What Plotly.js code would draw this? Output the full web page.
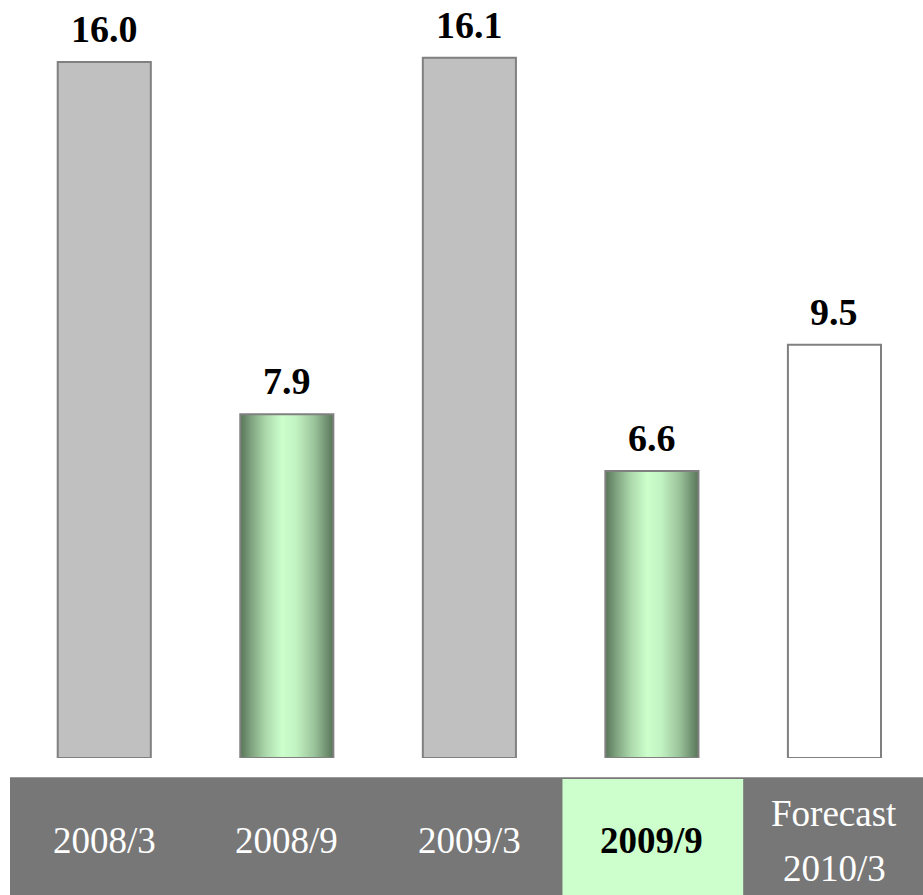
<!DOCTYPE html>
<html>
<head>
<meta charset="utf-8">
<script src="https://cdn.plot.ly/plotly-3.0.1.min.js"></script>
<style>
  html, body { margin: 0; padding: 0; background: #ffffff; }
  #chart { width: 923px; height: 895px; }
</style>
</head>
<body>
<div id="chart"></div>
<script>
// ---- data ----
const categories = ['2008/3', '2008/9', '2009/3', '2009/9', 'Forecast<br>2010/3'];
const values = [16.0, 7.9, 16.1, 6.6, 9.5];
const valueLabels = ['16.0', '7.9', '16.1', '6.6', '9.5'];
const barKinds = ['actual', 'half', 'actual', 'half', 'forecast'];
const highlightCategory = '2009/9';

// ---- styling ----
const W = 923, H = 895;
const ML = 13, MB = 137;
const plotW = W - ML, plotH = H - MB;
const pxPerUnit = 43.5;
const barWidth = 0.51;
const serif = "'Liberation Serif', 'Times New Roman', Times, serif";
const kindFill = { actual: '#c0c0c0', half: 'rgba(0,0,0,0)', forecast: '#ffffff' };

const py = p => 1 - p / plotH;           // pixel row -> paper y
const pxX = p => (p - ML) / plotW;        // pixel col -> paper x

const xs = categories.map((c, i) => i);

const gradSvg =
  '<svg xmlns="http://www.w3.org/2000/svg" width="100" height="100" viewBox="0 0 100 100" preserveAspectRatio="none">' +
  '<defs><linearGradient id="g" x1="0" y1="0" x2="1" y2="0">' +
  '<stop offset="0" stop-color="#587458"/>' +
  '<stop offset="0.12" stop-color="#80a480"/>' +
  '<stop offset="0.28" stop-color="#addaad"/>' +
  '<stop offset="0.45" stop-color="#ccffcc"/>' +
  '<stop offset="0.6" stop-color="#c2f2c2"/>' +
  '<stop offset="0.8" stop-color="#99c299"/>' +
  '<stop offset="1" stop-color="#587458"/>' +
  '</linearGradient></defs>' +
  '<rect x="0" y="0" width="100" height="100" fill="url(#g)"/></svg>';
const gradSrc = 'data:image/svg+xml;base64,' + btoa(gradSvg);

const trace = {
  type: 'bar',
  x: xs,
  y: values,
  width: barWidth,
  marker: {
    color: barKinds.map(k => kindFill[k]),
    line: { color: '#808080', width: 2 }
  },
  hoverinfo: 'skip',
  textposition: 'none'
};

const images = [];
xs.forEach((x, i) => {
  if (barKinds[i] === 'half') {
    images.push({
      source: gradSrc, xref: 'x', yref: 'y',
      x: x - barWidth / 2, y: values[i],
      sizex: barWidth, sizey: values[i],
      xanchor: 'left', yanchor: 'top',
      sizing: 'stretch', layer: 'below'
    });
  }
});

const annotations = [];
xs.forEach((x, i) => {
  annotations.push({
    x: x, y: values[i], xref: 'x', yref: 'y',
    text: '<b>' + valueLabels[i] + '</b>',
    showarrow: false, yanchor: 'bottom', yshift: 10,
    font: { family: serif, size: 38, color: '#000000' }
  });
  const lines = categories[i].split('<br>');
  const hl = categories[i] === highlightCategory;
  const centers = lines.length === 1 ? [840] : [813, 868];
  lines.forEach((ln, j) => {
    annotations.push({
      x: x, xref: 'x', y: py(centers[j]), yref: 'paper',
      text: hl ? '<b>' + ln + '</b>' : ln,
      showarrow: false, yanchor: 'middle', xanchor: 'center',
      font: { family: serif, size: 37, color: hl ? '#000000' : '#ffffff' }
    });
  });
});

const shapes = [
  { type: 'rect', xref: 'paper', yref: 'paper',
    x0: pxX(10), x1: pxX(W), y0: py(777), y1: py(H),
    fillcolor: '#777777', line: { width: 0 } },
  { type: 'line', xref: 'paper', yref: 'paper',
    x0: pxX(10), x1: pxX(W), y0: py(777.5), y1: py(777.5),
    line: { color: '#9a9a9a', width: 1 } }
];
xs.forEach((x, i) => {
  if (categories[i] === highlightCategory) {
    shapes.push({ type: 'rect', xref: 'x', yref: 'paper',
      x0: x - 0.49, x1: x + 0.5, y0: py(779), y1: py(H),
      fillcolor: '#ccffcc', line: { width: 0 } });
  }
});

const layout = {
  width: W, height: H,
  margin: { l: ML, r: 0, t: 0, b: MB, pad: 0 },
  paper_bgcolor: '#ffffff',
  plot_bgcolor: 'rgba(0,0,0,0)',
  showlegend: false,
  barmode: 'overlay',
  xaxis: { range: [-0.5, 4.485], showgrid: false, zeroline: false,
           showticklabels: false, showline: false, ticks: '', fixedrange: true },
  yaxis: { range: [0, plotH / pxPerUnit], showgrid: false, zeroline: false,
           showticklabels: false, showline: false, ticks: '', fixedrange: true },
  images: images,
  annotations: annotations,
  shapes: shapes
};

Plotly.newPlot('chart', [trace], layout, { displayModeBar: false, staticPlot: true });
</script>
</body>
</html>
